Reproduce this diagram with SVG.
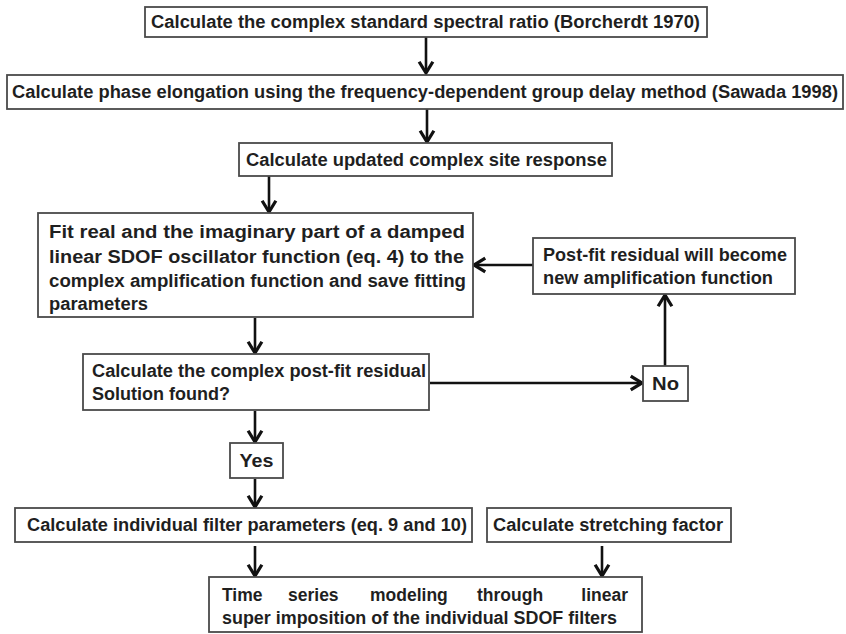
<svg xmlns="http://www.w3.org/2000/svg" width="846" height="634" viewBox="0 0 846 634">
  <defs>
    <marker id="head" markerUnits="userSpaceOnUse" markerWidth="20" markerHeight="20" viewBox="-12 -8 14 16" refX="0" refY="0" orient="auto">
      <path d="M -9,-5.5 L 0,0 L -9,5.5" fill="none" stroke="#111" stroke-width="2.6" stroke-linejoin="miter"/>
    </marker>
    <style>
      .box { fill: #fff; stroke: #4a4a4a; stroke-width: 1.8; }
      .lbl { font-family: "Liberation Sans", Arial, Helvetica, sans-serif; font-weight: bold; font-size: 17.5px; fill: #1f1f1f; }
      .mid { text-anchor: middle; }
      .end { text-anchor: end; }
      .edge { stroke: #111; stroke-width: 2.6; fill: none; marker-end: url(#head); }
    </style>
  </defs>
  <rect width="846" height="634" fill="#fff"/>

  <!-- connectors -->
  <g id="connectors">
    <line class="edge" x1="426" y1="37" x2="426" y2="73"/>
    <line class="edge" x1="427" y1="109" x2="427" y2="142"/>
    <line class="edge" x1="269" y1="176" x2="269" y2="212"/>
    <line class="edge" x1="255" y1="318" x2="255" y2="353"/>
    <line class="edge" x1="255" y1="411" x2="255" y2="442"/>
    <line class="edge" x1="255" y1="479" x2="255" y2="507"/>
    <line class="edge" x1="255" y1="546" x2="255" y2="576"/>
    <line class="edge" x1="602" y1="546" x2="602" y2="576"/>
    <line class="edge" x1="430" y1="383" x2="642" y2="383"/>
    <line class="edge" x1="665" y1="366" x2="665" y2="295"/>
    <line class="edge" x1="533" y1="265" x2="474" y2="265"/>
  </g>

  <!-- process steps -->
  <g id="ssr">
    <rect class="box" x="145" y="7" width="562" height="30"/>
    <text class="lbl" x="151" y="27.5" textLength="549" lengthAdjust="spacingAndGlyphs">Calculate the complex standard spectral ratio (Borcherdt 1970)</text>
  </g>
  <g id="phase">
    <rect class="box" x="7" y="75" width="836" height="34"/>
    <text class="lbl" x="12" y="98" textLength="826" lengthAdjust="spacingAndGlyphs">Calculate phase elongation using the frequency-dependent group delay method (Sawada 1998)</text>
  </g>
  <g id="site">
    <rect class="box" x="239" y="143" width="373" height="33"/>
    <text class="lbl" x="246" y="166" textLength="361" lengthAdjust="spacingAndGlyphs">Calculate updated complex site response</text>
  </g>
  <g id="fit">
    <rect class="box" x="38" y="213" width="435" height="104"/>
    <text class="lbl" x="49" y="238" textLength="416" lengthAdjust="spacingAndGlyphs">Fit real and the imaginary part of a damped</text>
    <text class="lbl" x="49" y="263" textLength="415" lengthAdjust="spacingAndGlyphs">linear SDOF oscillator function (eq. 4) to the</text>
    <text class="lbl" x="49" y="287" textLength="417" lengthAdjust="spacingAndGlyphs">complex amplification function and save fitting</text>
    <text class="lbl" x="49" y="310" textLength="99" lengthAdjust="spacingAndGlyphs">parameters</text>
  </g>
  <g id="newamp">
    <rect class="box" x="533" y="238" width="262" height="56"/>
    <text class="lbl" x="543" y="261" textLength="244" lengthAdjust="spacingAndGlyphs">Post-fit residual will become</text>
    <text class="lbl" x="543" y="284" textLength="230" lengthAdjust="spacingAndGlyphs">new amplification function</text>
  </g>
  <g id="residual">
    <rect class="box" x="83" y="354" width="346" height="56"/>
    <text class="lbl" x="92" y="377" textLength="334" lengthAdjust="spacingAndGlyphs">Calculate the complex post-fit residual</text>
    <text class="lbl" x="92" y="400" textLength="138" lengthAdjust="spacingAndGlyphs">Solution found?</text>
  </g>
  <g id="no">
    <rect class="box" x="643" y="366" width="45" height="35"/>
    <text class="lbl mid" x="665.5" y="390" textLength="27" lengthAdjust="spacingAndGlyphs">No</text>
  </g>
  <g id="yes">
    <rect class="box" x="230" y="443" width="53" height="35"/>
    <text class="lbl mid" x="256.5" y="467" textLength="34" lengthAdjust="spacingAndGlyphs">Yes</text>
  </g>
  <g id="filters">
    <rect class="box" x="15" y="508" width="457" height="34"/>
    <text class="lbl" x="27" y="531" textLength="440" lengthAdjust="spacingAndGlyphs">Calculate individual filter parameters (eq. 9 and 10)</text>
  </g>
  <g id="stretch">
    <rect class="box" x="487" y="508" width="244" height="34"/>
    <text class="lbl" x="493" y="531" textLength="230" lengthAdjust="spacingAndGlyphs">Calculate stretching factor</text>
  </g>
  <g id="timeseries">
    <rect class="box" x="209" y="577" width="433" height="55"/>
    <!-- first line is justified: one text run per word -->
    <text class="lbl" x="222" y="601">Time</text>
    <text class="lbl" x="288" y="601">series</text>
    <text class="lbl" x="370" y="601">modeling</text>
    <text class="lbl" x="477" y="601">through</text>
    <text class="lbl end" x="628" y="601">linear</text>
    <text class="lbl" x="222" y="624" textLength="395" lengthAdjust="spacingAndGlyphs">super imposition of the individual SDOF filters</text>
  </g>
</svg>
